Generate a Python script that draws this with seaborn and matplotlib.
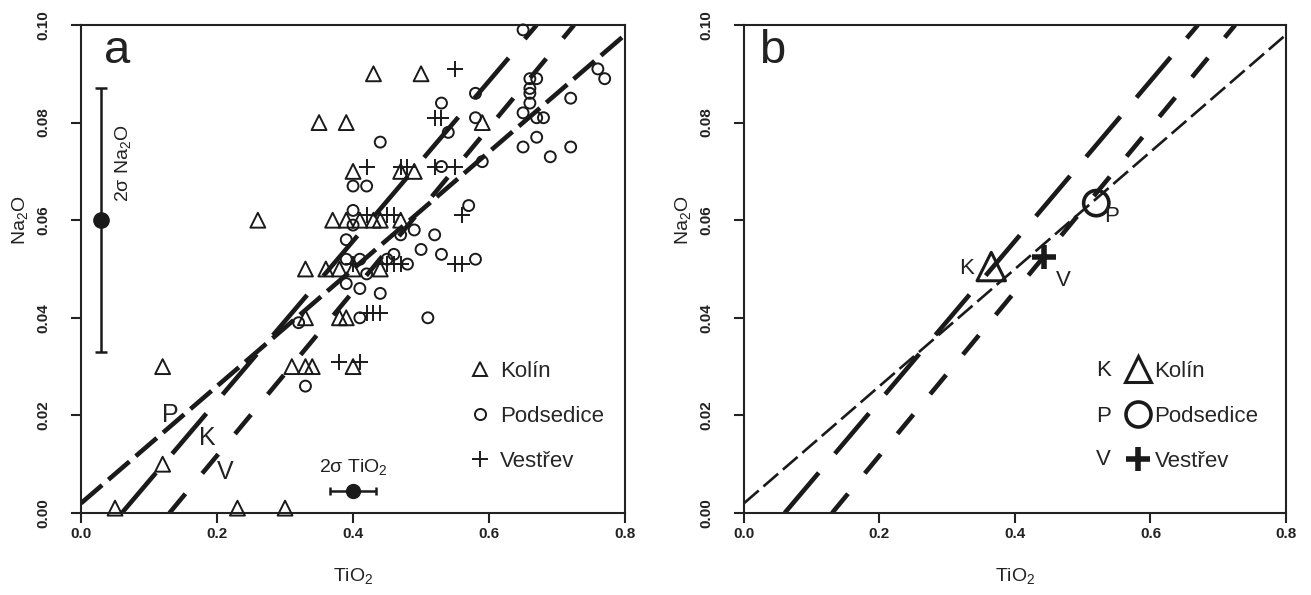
import matplotlib
matplotlib.use("Agg")
import matplotlib.pyplot as plt
from matplotlib.lines import Line2D
import seaborn as sns

# ---------------- data ----------------
kolin_x = [0.05, 0.23, 0.30, 0.12, 0.12, 0.31, 0.33, 0.34, 0.40, 0.33, 0.38, 0.39,
           0.33, 0.36, 0.38, 0.40, 0.44, 0.26, 0.37, 0.39, 0.41, 0.43, 0.44, 0.47,
           0.40, 0.47, 0.49, 0.35, 0.39, 0.59, 0.43, 0.50]
kolin_y = [0.001, 0.001, 0.001, 0.01, 0.03, 0.03, 0.03, 0.03, 0.03, 0.04, 0.04, 0.04,
           0.05, 0.05, 0.05, 0.05, 0.05, 0.06, 0.06, 0.06, 0.06, 0.06, 0.06, 0.06,
           0.07, 0.07, 0.07, 0.08, 0.08, 0.08, 0.09, 0.09]

pods_x = [0.65, 0.58, 0.53, 0.58, 0.54, 0.66, 0.67, 0.66, 0.66, 0.66, 0.65,
          0.76, 0.77, 0.72, 0.67, 0.68, 0.67, 0.65, 0.72, 0.69,
          0.44, 0.59, 0.53, 0.40, 0.42, 0.57, 0.40, 0.40, 0.39,
          0.47, 0.49, 0.52, 0.50, 0.53, 0.58, 0.46, 0.45, 0.48,
          0.39, 0.41, 0.42, 0.39, 0.41, 0.44, 0.32, 0.41, 0.51, 0.33]
pods_y = [0.099, 0.086, 0.084, 0.081, 0.078, 0.089, 0.089, 0.087, 0.086, 0.084, 0.082,
          0.091, 0.089, 0.085, 0.081, 0.081, 0.077, 0.075, 0.075, 0.073,
          0.076, 0.072, 0.071, 0.067, 0.067, 0.063, 0.062, 0.059, 0.056,
          0.057, 0.058, 0.057, 0.054, 0.053, 0.052, 0.053, 0.052, 0.051,
          0.052, 0.052, 0.049, 0.047, 0.046, 0.045, 0.039, 0.040, 0.040, 0.026]

vest_x = [0.55, 0.52, 0.53, 0.42, 0.47, 0.48, 0.52, 0.55,
          0.42, 0.45, 0.46, 0.56,
          0.40, 0.45, 0.46, 0.47, 0.55, 0.56,
          0.42, 0.43, 0.44, 0.38, 0.41]
vest_y = [0.091, 0.081, 0.081, 0.071, 0.071, 0.071, 0.071, 0.071,
          0.061, 0.061, 0.061, 0.061,
          0.051, 0.051, 0.051, 0.051, 0.051, 0.051,
          0.041, 0.041, 0.041, 0.031, 0.031]

# regression lines (end points)
line_P_x = [0.0, 0.8]
line_P_y = [0.002, 0.098]
line_K_x = [0.06, 0.67]
line_K_y = [0.0, 0.1]
line_V_x = [0.13, 0.725]
line_V_y = [0.0, 0.1]

# analytical uncertainty (2 sigma)
err_na_x, err_na_y, err_na = 0.03, 0.06, 0.027
err_ti_x, err_ti_y, err_ti = 0.40, 0.0045, 0.034

# panel b: means
mean_labels = ["K", "P", "V"]
mean_x = [0.365, 0.52, 0.443]
mean_y = [0.0505, 0.0635, 0.0525]

site_names = ["Kolín", "Podsedice", "Vestřev"]
x_ticks = [0.0, 0.2, 0.4, 0.6, 0.8]
y_ticks = [0.00, 0.02, 0.04, 0.06, 0.08, 0.10]

# ---------------- style ----------------
sns.set_theme(style="ticks")
plt.rcParams["font.family"] = ["Liberation Sans", "DejaVu Sans"]
plt.rcParams["mathtext.fontset"] = "custom"
plt.rcParams["mathtext.rm"] = "Liberation Sans"
plt.rcParams["mathtext.it"] = "Liberation Sans:italic"
plt.rcParams["mathtext.bf"] = "Liberation Sans:bold"
plt.rcParams["lines.scale_dashes"] = False

INK = "#222222"
fig = plt.figure(figsize=(13.11, 5.95), dpi=100)
axa = fig.add_axes([0.0618, 0.1378, 0.4150, 0.8202])
axb = fig.add_axes([0.5675, 0.1378, 0.4134, 0.8202])

def style_axes(ax):
    ax.set_xlim(0, 0.8)
    ax.set_ylim(0, 0.1)
    ax.set_xticks(x_ticks)
    ax.set_yticks(y_ticks)
    ax.set_xticklabels([f"{v:.1f}" for v in x_ticks], fontweight="bold", fontsize=11)
    ax.set_yticklabels([f"{v:.2f}" for v in y_ticks], fontweight="bold", fontsize=11,
                       rotation=90, va="center")
    for s in ax.spines.values():
        s.set_linewidth(1.5)
        s.set_color(INK)
    ax.tick_params(direction="out", length=7, width=1.5, color=INK, labelcolor=INK)
    ax.tick_params(axis="y", pad=15)
    ax.tick_params(axis="x", pad=3)
    ax.set_xlabel("TiO$_2$", fontsize=14, color=INK, labelpad=18)
    ax.set_ylabel("Na$_2$O", fontsize=14, color=INK)
    ax.yaxis.set_label_coords(-0.094, 0.60)

def draw_lines(ax, p_lw, p_dash):
    sns.lineplot(x=line_P_x, y=line_P_y, ax=ax, color="k", linewidth=p_lw)
    ax.lines[-1].set_linestyle((0, p_dash))
    sns.lineplot(x=line_K_x, y=line_K_y, ax=ax, color="k", linewidth=3.3)
    ax.lines[-1].set_linestyle((0, (38, 18)))
    sns.lineplot(x=line_V_x, y=line_V_y, ax=ax, color="k", linewidth=3.3)
    ax.lines[-1].set_linestyle((0, (18, 19)))

# ---------------- panel a ----------------
sns.scatterplot(x=kolin_x, y=kolin_y, ax=axa, marker="^", s=115,
                facecolors="none", edgecolor="k", linewidth=1.4, zorder=3, clip_on=False)
sns.scatterplot(x=pods_x, y=pods_y, ax=axa, marker="o", s=62,
                facecolors="none", edgecolor="k", linewidth=1.4, zorder=3, clip_on=False)
sns.scatterplot(x=vest_x, y=vest_y, ax=axa, marker="+", s=130,
                color="k", linewidth=1.4, zorder=3, clip_on=False)
draw_lines(axa, 3.3, (20, 6))

axa.errorbar([err_na_x], [err_na_y], yerr=[err_na], fmt="o", color="k", ms=11,
             capsize=4, elinewidth=1.8, capthick=1.8, zorder=4)
axa.text(0.062, 0.0717, "2σ Na$_2$O", rotation=90, ha="center", va="center",
         fontsize=14, color=INK)
axa.errorbar([err_ti_x], [err_ti_y], xerr=[err_ti], fmt="o", color="k", ms=10,
             capsize=3, elinewidth=1.8, capthick=1.8, zorder=4)
axa.text(0.40, 0.0095, "2σ TiO$_2$", ha="center", va="center", fontsize=14, color=INK)

for lab, tx, ty in zip(["P", "K", "V"], [0.131, 0.185, 0.212], [0.020, 0.0154, 0.0084]):
    axa.text(tx, ty, lab, ha="center", va="center", fontsize=18, color=INK)

axa.text(0.053, 0.0947, "a", ha="center", va="center", fontsize=34, color=INK)

h_a = [Line2D([], [], ls="none", marker="^", ms=10, mfc="none", mec="k", mew=1.4),
       Line2D([], [], ls="none", marker="o", ms=8, mfc="none", mec="k", mew=1.4),
       Line2D([], [], ls="none", marker="+", ms=11, color="k", mew=1.4)]
axa.legend(h_a, site_names, loc="upper left", bbox_to_anchor=(0.709, 0.311),
           frameon=False, fontsize=16, labelspacing=1.08, handletextpad=0.3,
           handlelength=1.2, borderpad=0, borderaxespad=0)

style_axes(axa)

# ---------------- panel b ----------------
draw_lines(axb, 1.9, (14, 4.5))
sns.scatterplot(x=[mean_x[0]], y=[mean_y[0]], ax=axb, marker="^", s=420,
                facecolors="none", edgecolor="k", linewidth=2.2, zorder=3)
sns.scatterplot(x=[mean_x[1]], y=[mean_y[1]], ax=axb, marker="o", s=330,
                facecolors="none", edgecolor="k", linewidth=2.6, zorder=3)
sns.scatterplot(x=[mean_x[2]], y=[mean_y[2]], ax=axb, marker="+", s=300,
                color="k", linewidth=4, zorder=3)
axb.text(0.328, 0.0502, "K", ha="center", va="center", fontsize=16, color=INK)
axb.text(0.543, 0.0607, "P", ha="center", va="center", fontsize=16, color=INK)
axb.text(0.472, 0.0477, "V", ha="center", va="center", fontsize=16, color=INK)
axb.text(0.041, 0.0947, "b", ha="center", va="center", fontsize=34, color=INK)

h_b = [Line2D([], [], ls="none", marker="^", ms=19, mfc="none", mec="k", mew=2.2),
       Line2D([], [], ls="none", marker="o", ms=18, mfc="none", mec="k", mew=2.6),
       Line2D([], [], ls="none", marker="+", ms=17, color="k", mew=4)]
axb.legend(h_b, site_names, loc="upper left", bbox_to_anchor=(0.70, 0.311),
           frameon=False, fontsize=16, labelspacing=1.08, handletextpad=0.1,
           handlelength=1.3, borderpad=0, borderaxespad=0)
for lab, ty in zip(mean_labels, [0.0293, 0.0197, 0.0110]):
    axb.text(0.531, ty, lab, ha="center", va="center", fontsize=16, color=INK)

style_axes(axb)

fig.savefig("out.png", dpi=100)
